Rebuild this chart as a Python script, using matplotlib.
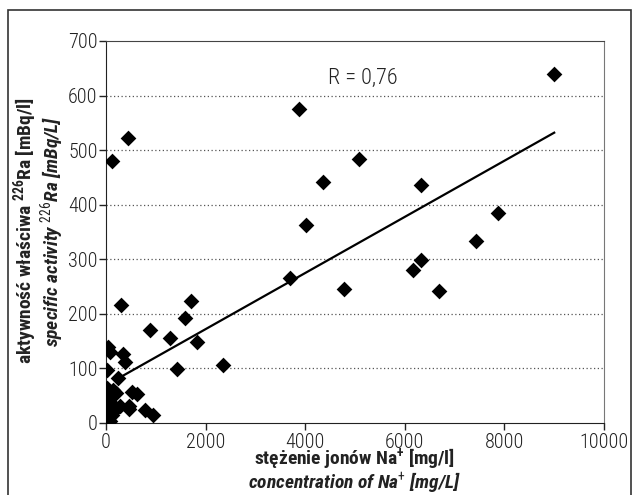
import matplotlib
matplotlib.use("Agg")
import matplotlib.pyplot as plt
from matplotlib import font_manager as fm
from matplotlib.patches import Rectangle

na_conc = [9000, 3870, 450, 130, 5080, 4350, 6320, 4020, 7880, 7420, 6320, 6170,
           3690, 4785, 6690, 1700, 300, 1580, 880, 1290, 1830, 40, 90, 340, 390,
           2340, 1430, 25, 250, 25, 150, 200, 520, 630, 8, 40, 0, 120, 280, 470,
           460, 790, 950, 200, 120, 10, 60, 30, 80, 5, 20]
ra_activity = [640, 576, 522, 480, 483, 441, 437, 362, 385, 334, 299, 281,
               266, 246, 242, 224, 217, 192, 171, 156, 149, 139, 131, 126, 111,
               106, 99, 97, 82, 64, 60, 55, 57, 53, 48, 42, 34, 35, 32, 32,
               26, 24, 14, 26, 14, 22, 12, 6, 4, 15, 8]
trend_x = [250, 9000]
trend_y = [82, 532]
x_ticks = [0, 2000, 4000, 6000, 8000, 10000]
y_ticks = [0, 100, 200, 300, 400, 500, 600, 700]

available = {f.name for f in fm.fontManager.ttflist}
prefs = ['Roboto Condensed', 'Archivo Narrow', 'IBM Plex Sans Condensed',
         'Fira Sans Condensed', 'DejaVu Sans']
font = next(p for p in prefs if p in available)
plt.rcParams['font.family'] = [font, 'DejaVu Sans']
plt.rcParams['mathtext.fontset'] = 'custom'
plt.rcParams['mathtext.rm'] = font
plt.rcParams['mathtext.it'] = f'{font}:italic:bold'
plt.rcParams['mathtext.bf'] = f'{font}:bold'

fig = plt.figure(figsize=(6.32, 4.95), dpi=100)
ax = fig.add_axes([106/632, 1-423/495, (604-106)/632, (423-41)/495])

ax.scatter(na_conc, ra_activity, marker='D', s=64, color='black', zorder=3,
           linewidths=0)
ax.plot(trend_x, trend_y, color='black', lw=1.6, zorder=2)

ax.set_xlim(0, 10000)
ax.set_ylim(0, 700)
ax.set_xticks(x_ticks)
ax.set_yticks(y_ticks)
ax.tick_params(direction='out', length=5, labelsize=14.5, colors='#222222', width=1)
ax.tick_params(axis='x', pad=2)
ax.tick_params(axis='y', pad=1)
for lab in ax.get_xticklabels() + ax.get_yticklabels():
    lab.set_fontweight('light')
for y in y_ticks[1:-1]:
    ax.axhline(y, color='#555555', lw=0.9, ls=(0, (1, 2)), zorder=1)
for s in ['left', 'bottom']:
    ax.spines[s].set_color('#222222')
ax.spines['top'].set_color('#444444')
ax.spines['right'].set_color('#777777')

ax.text(5160, 632, 'R = 0,76', fontsize=16, ha='center', va='center',
        color='#222222', fontweight='light')

# x-axis label lines (pixel positions from figure top)
fig.text(355/632, 1-458/495, 'stężenie jonów Na$^{\\mathbf{+}}$ [mg/l]',
         fontsize=14, fontweight='bold', ha='center', va='center', color='#222222')
fig.text(355/632, 1-483/495, 'concentration of Na$^{+}$ [mg/L]',
         fontsize=14, fontweight='bold', style='italic', ha='center', va='center',
         color='#222222')
# y-axis label lines
fig.text(25/632, 1-231/495, 'aktywność właściwa $^{\\mathbf{226}}$Ra [mBq/l]',
         fontsize=14, fontweight='bold', ha='center', va='center', rotation=90,
         color='#222222')
fig.text(52/632, 1-231/495, 'specific activity $^{226}$Ra [mBq/L]',
         fontsize=14, fontweight='bold', style='italic', ha='center', va='center',
         rotation=90, color='#222222')

fig.patches.append(Rectangle((8/632, -0.1), (631-8)/632, 1.1 - 10/495,
                             transform=fig.transFigure, fill=False,
                             edgecolor='#333333', lw=1.2))

fig.savefig('out.png', dpi=100)
